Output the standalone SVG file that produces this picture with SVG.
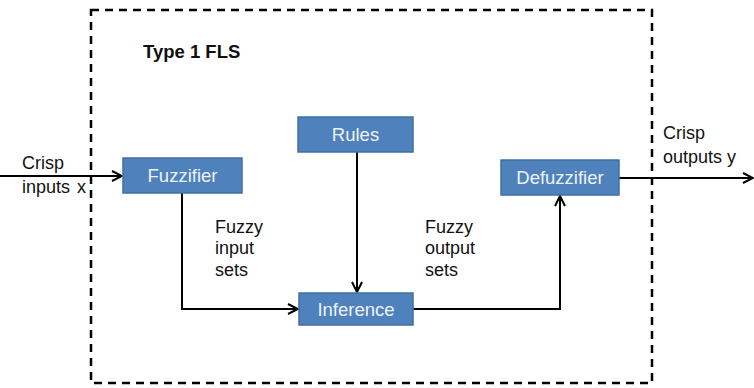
<svg xmlns="http://www.w3.org/2000/svg" width="754" height="388" viewBox="0 0 754 388">
<style>
.box{fill:#4f81bd;stroke:#41709f;stroke-width:1.5}
.bt{font-family:"Liberation Sans",Arial,sans-serif;font-size:18.5px;fill:#eef3fa;text-anchor:middle}
.lbl{font-family:"Liberation Sans",Arial,sans-serif;font-size:18px;fill:#111}
.ln{fill:none;stroke:#000;stroke-width:2}
</style>
<defs>
<marker id="ah" viewBox="0 0 12 12" refX="11" refY="6" markerWidth="12" markerHeight="12" markerUnits="userSpaceOnUse" orient="auto">
<path d="M1,1 L11,6 L1,11" fill="none" stroke="#000" stroke-width="2"/>
</marker>
</defs>
<rect x="91" y="10" width="561" height="373" fill="none" stroke="#000" stroke-width="2.5" stroke-dasharray="8,6"/>
<text x="143" y="58" class="lbl" style="font-weight:bold;font-size:18.5px">Type 1 FLS</text>
<g id="connectors">
<path class="ln" d="M0,176 H122" marker-end="url(#ah)"/>
<path class="ln" d="M182,193 V309 H298" marker-end="url(#ah)"/>
<path class="ln" d="M357,152 V292" marker-end="url(#ah)"/>
<path class="ln" d="M413,309 H560 V196" marker-end="url(#ah)"/>
<path class="ln" d="M619,178 H753" marker-end="url(#ah)"/>
</g>
<g id="fuzzifier"><rect class="box" x="123" y="158" width="119" height="35"/><text class="bt" x="182.5" y="182">Fuzzifier</text></g>
<g id="rules"><rect class="box" x="298" y="117" width="115" height="35"/><text class="bt" x="355.5" y="141">Rules</text></g>
<g id="inference"><rect class="box" x="299" y="293" width="114" height="32"/><text class="bt" x="356" y="316">Inference</text></g>
<g id="defuzzifier"><rect class="box" x="501" y="160" width="118" height="35"/><text class="bt" x="560" y="184">Defuzzifier</text></g>
<g id="labels">
<text class="lbl" x="22" y="169">Crisp</text>
<text class="lbl" x="22" y="193">inputs<tspan x="77">x</tspan></text>
<text class="lbl" x="215" y="233">Fuzzy</text>
<text class="lbl" x="215" y="254">input</text>
<text class="lbl" x="215" y="276">sets</text>
<text class="lbl" x="425" y="233">Fuzzy</text>
<text class="lbl" x="425" y="254">output</text>
<text class="lbl" x="425" y="276">sets</text>
<text class="lbl" x="663" y="139">Crisp</text>
<text class="lbl" x="663" y="163">outputs<tspan x="727">y</tspan></text>
</g>
</svg>
